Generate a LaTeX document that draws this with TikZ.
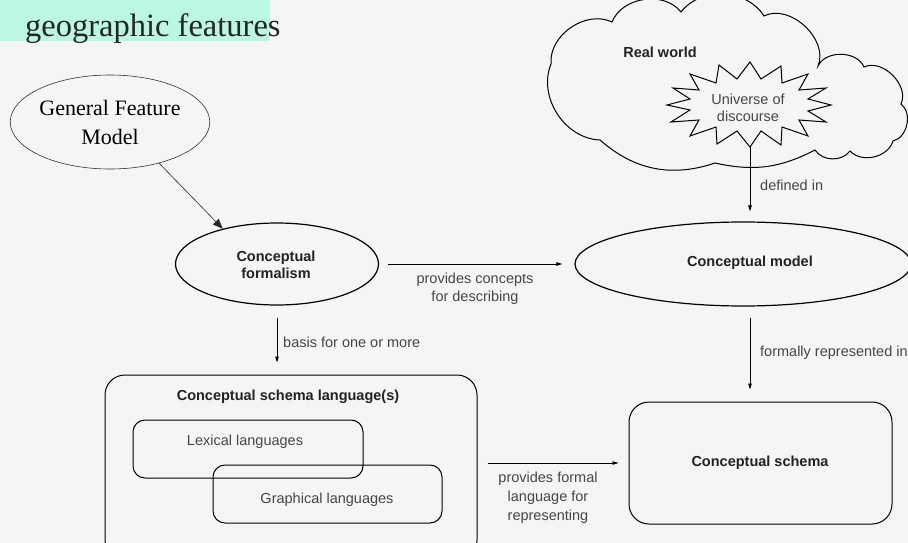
\documentclass[tikz,border=0pt]{standalone}
\usepackage{fontspec}
\setmainfont{Liberation Serif}
\setsansfont{Liberation Sans}
\usetikzlibrary{arrows.meta,shapes.geometric}

\definecolor{pagebg}{RGB}{245,245,245}
\definecolor{mint}{RGB}{188,247,229}
\definecolor{headtext}{RGB}{34,34,34}
\definecolor{labeltext}{RGB}{70,70,70}

\tikzset{
  heading/.style={font=\sffamily\bfseries\fontsize{14.5}{17.5}\selectfont, text=headtext, align=center, inner sep=0pt},
  plainlabel/.style={font=\sffamily\fontsize{14.5}{17.5}\selectfont, text=labeltext, align=center, inner sep=0pt},
  bigoval/.style={ellipse, draw=black, line width=1.2pt, inner sep=0pt},
  roundbox/.style={rectangle, draw=black, line width=1pt, inner sep=0pt},
  flow/.style={draw=black, line width=0.9pt, -{Triangle[length=6pt,width=3.5pt]}},
}

\begin{document}
\begin{tikzpicture}[x=1pt,y=-1pt]
  % page and title strip
  \fill[pagebg] (0,0) rectangle (908,543);
  \useasboundingbox (0,0) rectangle (908,543);
  \fill[mint] (0,0) rectangle (270,41);
  \node[anchor=base west, inner sep=0pt, font=\fontsize{32.5}{36}\selectfont, text=black!85]
    (title) at (25,37) {geographic features};

  % real world cloud
  \draw[line width=1pt, fill=pagebg]
    (600,140) to[bend left=55] (551,64)
              to[bend left=60] (612,22)
              to[bend left=60] (681,12)
              to[bend left=55] (764,16)
              to[bend left=70] (818,66)
              to[bend left=65] (864,67)
              to[bend left=70] (901,104)
              to[bend left=65] (893,141)
              to[bend left=60] (850,151)
              to[bend left=55] (815,150)
              to[bend left=20] (715,163)
              to[bend left=30] (600,140) -- cycle;
  \node[heading] (rw) at (660,52) {Real world};

  % universe of discourse starburst
  \draw[line width=1pt, fill=pagebg]
    (831,105) -- (808,111) -- (826,122) -- (799,120) -- (808,136) -- (782,127)
    -- (781,145) -- (761,131) -- (750,147) -- (737,131) -- (717,144) -- (716,127)
    -- (690,136) -- (699,120) -- (671,122) -- (690,110) -- (667,105) -- (690,99)
    -- (673,88) -- (699,90) -- (690,74) -- (716,83) -- (719,65) -- (737,79)
    -- (750,62) -- (761,79) -- (781,66) -- (782,83) -- (808,74) -- (799,90)
    -- (826,88) -- (808,99) -- cycle;
  \node[plainlabel] (uod) at (748,108) {Universe of\\discourse};
  \coordinate (uodb) at (750,147);

  % general feature model
  \node[ellipse, draw=black!80, line width=0.6pt, minimum width=190pt, minimum height=94pt,
        inner sep=0pt, align=center, font=\fontsize{22}{29}\selectfont] (gfm) at (110,122)
        {General Feature\\Model};

  % conceptual formalism and conceptual model
  \node[bigoval, minimum width=203pt, minimum height=82pt] (cf) at (277,264) {};
  \node[heading] (cft) at (276,265) {Conceptual\\formalism};
  \node[bigoval, minimum width=336pt, minimum height=84pt] (cm) at (743,264) {};
  \node[heading] (cmt) at (750,263) {Conceptual model};

  % conceptual schema language(s)
  \node[roundbox, rounded corners=20pt, minimum width=372pt, minimum height=185pt] (csl) at (291,467.5) {};
  \node[heading] (cslt) at (288,397) {Conceptual schema language(s)};
  \node[roundbox, rounded corners=12pt, minimum width=230pt, minimum height=58pt] (lex) at (248,449) {};
  \node[plainlabel] (lext) at (245,442) {Lexical languages};
  \node[roundbox, rounded corners=12pt, minimum width=229pt, minimum height=58pt] (gra) at (327.5,494) {};
  \node[plainlabel] (grat) at (327,500) {Graphical languages};

  % conceptual schema
  \node[roundbox, rounded corners=20pt, minimum width=263pt, minimum height=122pt] (cs) at (760.5,463) {};
  \node[heading] (cst) at (760,463) {Conceptual schema};

  % connectors
  \draw[black!85, line width=0.6pt, -{Triangle[length=10pt,width=8pt]}] (gfm.-40) -- (cf.147);
  \draw[flow, shorten <=9pt, shorten >=12pt] (cf.east) -- (cm.west |- cf.east);
  \draw[flow, shorten <=12pt, shorten >=12pt] (cf.south) -- (cf.south |- csl.north);
  \draw[flow, shorten >=10pt] (uodb) -- (uodb |- cm.north);
  \draw[flow, shorten <=11pt, shorten >=12pt] (cm.south -| uodb) -- (cs.north -| uodb);
  \draw[flow, shorten <=10pt, shorten >=10pt] (cs.west -| csl.east) -- (cs.west);

  % connector labels
  \node[plainlabel] (l1) at (475,288.5) {provides concepts\\for describing};
  \node[plainlabel, anchor=west] (l2) at (283,342) {basis for one or more};
  \node[plainlabel, anchor=west] (l3) at (760,185) {defined in};
  \node[plainlabel, anchor=west] (l4) at (760,353) {formally represented in};
  \node[plainlabel, font=\sffamily\fontsize{14.5}{19}\selectfont] (l5) at (548,498)
    {provides formal\\language for\\representing};
\end{tikzpicture}
\end{document}
